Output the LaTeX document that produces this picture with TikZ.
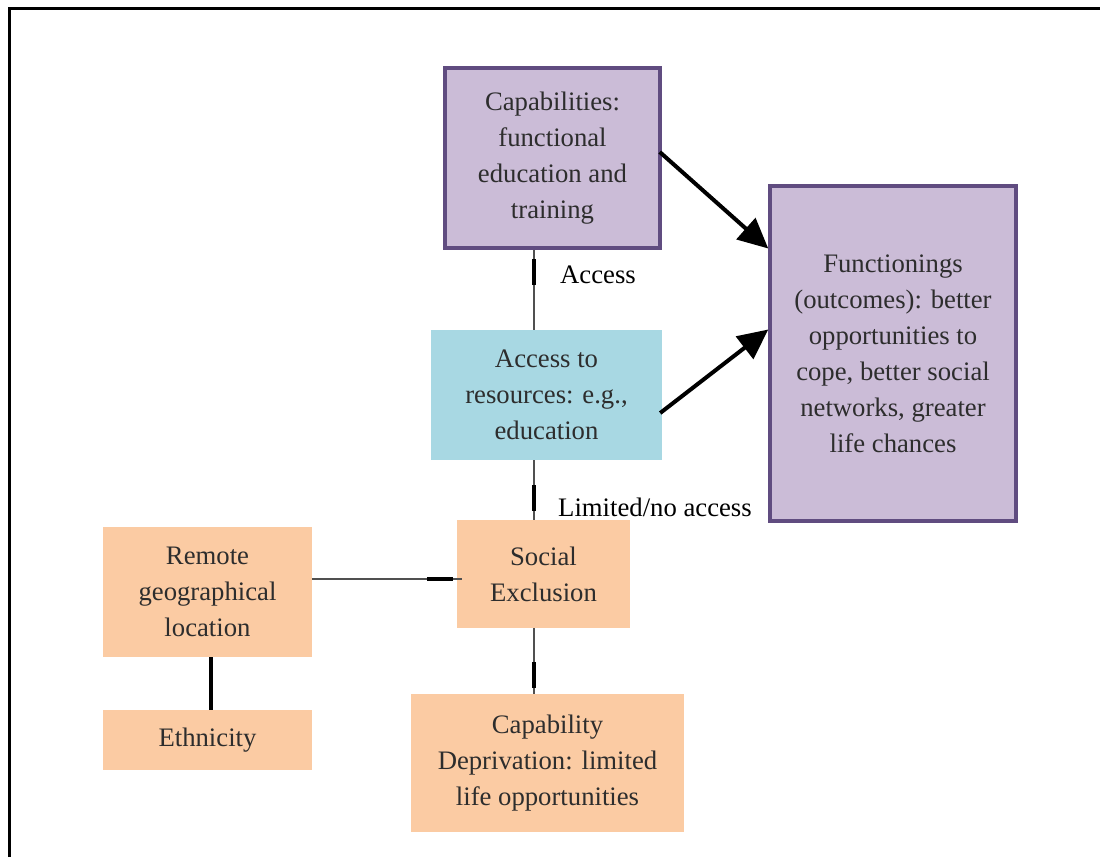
\documentclass[tikz,border=0pt]{standalone}
\usepackage{fontspec}
\setmainfont{Liberation Serif}
\usetikzlibrary{arrows.meta,calc}
\definecolor{pfill}{RGB}{203,188,215}
\definecolor{pdraw}{RGB}{96,76,128}
\definecolor{bfill}{RGB}{168,216,227}
\definecolor{ofill}{RGB}{251,203,163}
\definecolor{btext}{RGB}{45,45,45}
\definecolor{cline}{RGB}{80,80,80}
\tikzset{
  box/.style={rectangle, inner sep=0pt, align=center, text=btext,
    font=\fontsize{26.7}{36}\selectfont},
  pbox/.style={box, fill=pfill, draw=pdraw, line width=3.5pt},
  bbox/.style={box, fill=bfill},
  obox/.style={box, fill=ofill},
  lbl/.style={anchor=west, inner sep=0pt, font=\fontsize{26.7}{30}\selectfont},
  conn/.style={draw=cline, line width=1.8pt},
  tick/.style={draw=black, line width=3.5pt},
  bigarrow/.style={draw=black, line width=4pt, -{Triangle[length=30pt,width=28pt]}}
}
\begin{document}
\begin{tikzpicture}[x=1pt,y=-1pt]
\useasboundingbox (0,0) rectangle (1100,857);
% frame
\draw[line width=3pt] (9,857) -- (9,8) -- (1100,8);
% nodes
\node[pbox, minimum width=215pt, minimum height=180pt] (cap) at (552.5,158)
  {Capabilities:\\functional\\education and\\training};
\node[pbox, minimum width=246pt, minimum height=335pt] (fun) at (893,353.5)
  {Functionings\\(outcomes): better\\opportunities to\\cope, better social\\networks, greater\\life chances};
\node[bbox, minimum width=231pt, minimum height=130pt] (acc) at (546.5,395)
  {Access to\\resources: e.g.,\\education};
\node[obox, minimum width=173pt, minimum height=108pt] (soc) at (543.5,574)
  {Social\\Exclusion};
\node[obox, minimum width=209pt, minimum height=130pt] (rem) at (207.5,592)
  {Remote\\geographical\\location};
\node[obox, minimum width=209pt, minimum height=60pt] (eth) at (207.5,740)
  {Ethnicity};
\node[obox, minimum width=273pt, minimum height=138pt] (dep) at (547.5,763)
  {Capability\\Deprivation: limited\\life opportunities};
% connectors
\draw[conn] (cap.south -| 534,0) -- (acc.north -| 534,0);
\draw[tick] (534,259) -- (534,285);
\node[lbl] (laccess) at (560,275) {Access};

\draw[conn] (acc.south -| 534,0) -- (soc.north -| 534,0);
\draw[tick] (534,485) -- (534,511);
\node[lbl] (llim) at (558,507) {Limited/no access};

\draw[conn] (rem.east |- 0,579) -- (462,579);
\draw[tick] (427,579) -- (453,579);

\draw[conn] (soc.south -| 534,0) -- (dep.north -| 534,0);
\draw[tick] (534,662) -- (534,688);

\draw[line width=3.5pt] (rem.south -| 211,0) -- (eth.north -| 211,0);

% arrows
\draw[bigarrow] ($(cap.east)+(-2,-6)$) -- ($(fun.west)+(0,-105)$);
\draw[bigarrow] ($(acc.east)+(-2,18)$) -- ($(fun.west)+(0,-24)$);
\end{tikzpicture}
\end{document}
